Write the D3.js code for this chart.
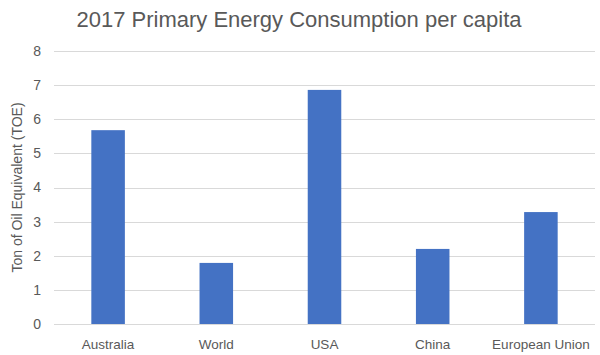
<!DOCTYPE html>
<html><head><meta charset="utf-8">
<script src="https://cdn.jsdelivr.net/npm/d3@7"></script>
<style>body{margin:0;background:#fff;} svg{display:block;}</style>
</head><body>
<script>
const categories = ["Australia", "World", "USA", "China", "European Union"];
const values = [5.68, 1.79, 6.86, 2.2, 3.28];
const yTicks = [0, 1, 2, 3, 4, 5, 6, 7, 8];
const title = "2017 Primary Energy Consumption per capita";
const yTitle = "Ton of Oil Equivalent (TOE)";

const W = 600, H = 355;
const m = {left: 54, right: 5, top: 51, bottom: 31};
const svg = d3.select("body").append("svg").attr("width", W).attr("height", H);
const x = d3.scaleBand().domain(categories).range([m.left, W - m.right]).paddingInner(0.69).paddingOuter(0.345);
const y = d3.scaleLinear().domain([0, 8]).range([H - m.bottom, m.top]);
const font = "'Liberation Sans', Arial, sans-serif";
const txt = "#595959";

// gridlines
svg.append("g").selectAll("line").data(yTicks).join("line")
  .attr("x1", m.left).attr("x2", W - m.right)
  .attr("y1", d => Math.round(y(d)) + 0.5).attr("y2", d => Math.round(y(d)) + 0.5)
  .attr("stroke", "#d9d9d9").attr("stroke-width", 1);

// y axis labels
const ya = svg.append("g").attr("transform", `translate(${m.left - 13},0)`)
  .call(d3.axisLeft(y).tickValues(yTicks).tickSize(0).tickPadding(0).tickFormat(d3.format("d")));
ya.select(".domain").remove();
ya.selectAll("text").attr("font-family", font).attr("font-size", 14).attr("fill", txt);

// bars
svg.append("g").selectAll("rect").data(categories).join("rect")
  .attr("x", d => x(d)).attr("width", x.bandwidth())
  .attr("y", (d, i) => y(values[i])).attr("height", (d, i) => y(0) - y(values[i]))
  .attr("fill", "#4472c4");

// x axis
const xa = svg.append("g").attr("transform", `translate(0,${H - m.bottom})`)
  .call(d3.axisBottom(x).tickSize(0).tickPadding(15));
xa.select(".domain").remove();
xa.selectAll("text").attr("font-family", font).attr("font-size", 13.5).attr("fill", txt);

// title
svg.append("text").attr("x", 299).attr("y", 27).attr("text-anchor", "middle")
  .attr("font-family", font).attr("font-size", 22).attr("fill", txt).text(title);

// y title
svg.append("text").attr("transform", `translate(22,${(y(0) + y(8)) / 2}) rotate(-90)`)
  .attr("text-anchor", "middle").attr("font-family", font).attr("font-size", 14).attr("fill", txt).text(yTitle);
</script>
</body></html>
